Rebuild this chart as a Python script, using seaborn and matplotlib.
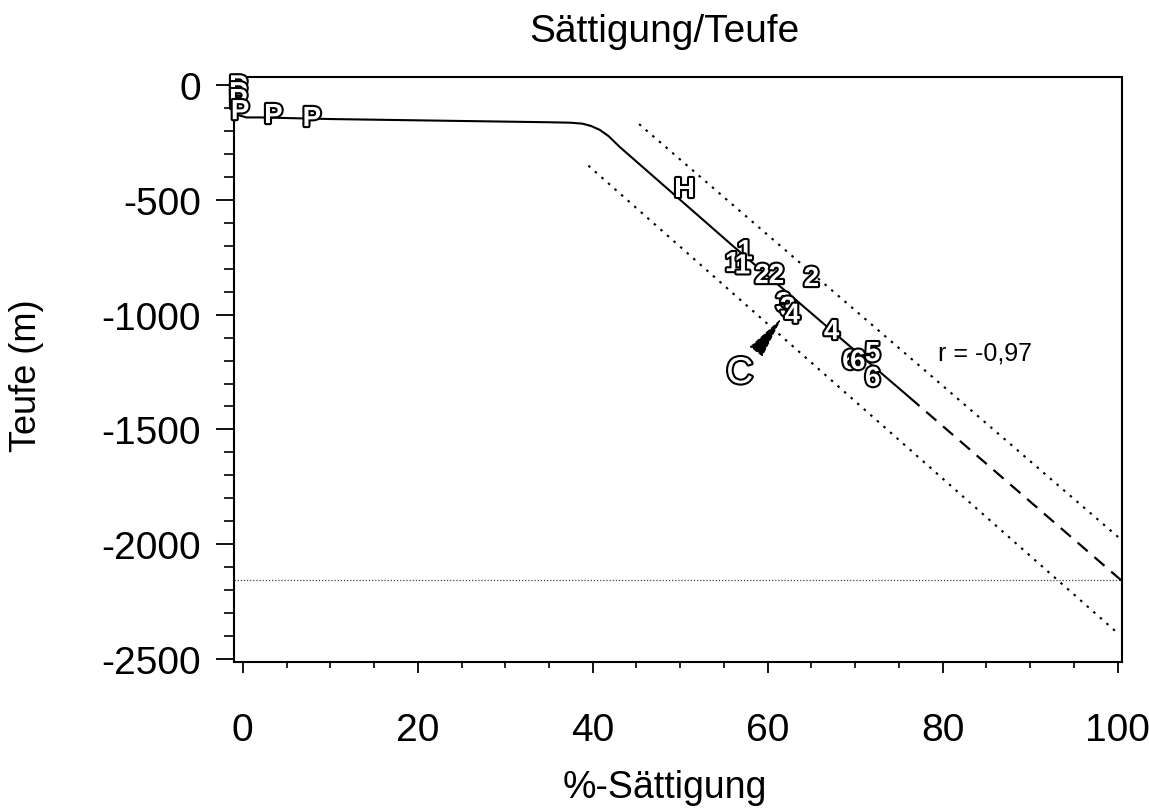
"""Saettigung/Teufe plot: saturation vs depth with regression line and band."""
import matplotlib
matplotlib.use('Agg')
import matplotlib.pyplot as plt
import matplotlib.patheffects as pe
from matplotlib.ticker import MultipleLocator
import pandas as pd
import seaborn as sns

# fitted curve (solid), extrapolation (dashed), confidence band (dotted)
curve_x = [-1.0, 0.4, 2.0, 10.0, 22.5, 35.0, 37.5, 38.8, 39.8, 40.8, 41.8, 43.1, 56.0, 76.2]
curve_y = [-125, -141, -141, -148, -155, -162, -164, -168, -178, -195, -222, -270, -700, -1360]
extrap_x = [76.2, 100.5]
extrap_y = [-1360, -2160]
upper_x = [45.3, 100.5]
upper_y = [-170, -1983]
lower_x = [39.5, 100.0]
lower_y = [-351, -2387]
base_depth = -2155

# sample labels
labels = ['P', 'P', 'P', 'P', 'P', 'P', 'H', '1', '1', '1', '2', '2', '2',
          '3', '3', '4', '4', '5', '6', '6', '6']
sat = [-0.5, -0.5, -0.5, -0.3, 3.5, 7.9, 50.5, 56.0, 57.4, 57.1, 59.4, 61.0, 65.0,
       61.8, 62.3, 62.8, 67.3, 72.0, 69.4, 70.3, 72.0]
depth = [-10, -40, -70, -118, -135, -148, -458, -780, -728, -790, -832, -832, -845,
         -955, -975, -1005, -1076, -1172, -1206, -1206, -1280]

x_ticks = [0, 20, 40, 60, 80, 100]
y_ticks = [0, -500, -1000, -1500, -2000, -2500]

sns.set_theme(style='ticks')
plt.rcParams['font.family'] = ['Liberation Sans', 'DejaVu Sans']
plt.rcParams['axes.unicode_minus'] = False

fig = plt.figure(figsize=(11.49, 8.12), dpi=100)
ax = fig.add_axes([0.2037, 0.1835, 0.7728, 0.7204])

sns.lineplot(x=curve_x, y=curve_y, ax=ax, color='black', lw=1.5, estimator=None)
sns.lineplot(x=extrap_x, y=extrap_y, ax=ax, color='black', lw=1.6,
             linestyle=(0, (6, 4)), estimator=None)
for bx, by in [(upper_x, upper_y), (lower_x, lower_y)]:
    sns.lineplot(x=bx, y=by, ax=ax, color='black', lw=1.5,
                 linestyle=(0, (1.2, 3.0)), estimator=None)
ax.axhline(base_depth, color='#444444', lw=0.9, linestyle=(0, (1, 1.5)))

outline = [pe.withStroke(linewidth=3, foreground='black')]
pts = pd.DataFrame({'label': labels, 'sat': sat, 'depth': depth})
for _, r in pts.iterrows():
    ax.text(r['sat'], r['depth'], r['label'], ha='center', va='center',
            fontsize=20, fontweight='bold', color='white', path_effects=outline)

ax.annotate('C', xy=(61.6, -1015), xytext=(56.8, -1255), ha='center', va='center',
            fontsize=27, color='white', path_effects=outline,
            arrowprops=dict(arrowstyle='-|>,head_length=1.7,head_width=0.32',
                            mutation_scale=16, linestyle=(0, (3, 2)),
                            color='black', lw=1.0, shrinkA=1, shrinkB=0))
ax.text(79.5, -1163, 'r = -0,97', ha='left', va='center', fontsize=18, color='black')

ax.set_xlim(-1.0, 100.5)
ax.set_ylim(-2513, 35)
ax.set_xticks(x_ticks)
ax.set_yticks(y_ticks)
ax.xaxis.set_minor_locator(MultipleLocator(5))
ax.yaxis.set_minor_locator(MultipleLocator(100))
ax.tick_params(axis='x', which='major', length=8, width=1.3, pad=28, labelsize=28, colors='black')
ax.tick_params(axis='x', which='minor', length=4, width=1.2, colors='black')
ax.tick_params(axis='y', which='major', length=13, width=1.3, pad=11, labelsize=28, colors='black')
ax.tick_params(axis='y', which='minor', length=7, width=1.2, colors='black')
for s in ax.spines.values():
    s.set_color('black')
    s.set_linewidth(1.5)

ax.set_xlabel('%-Sättigung', fontsize=27, color='black')
ax.set_ylabel('Teufe (m)', fontsize=26, color='black')
ax.xaxis.set_label_coords(0.485, -0.183)
ax.yaxis.set_label_coords(-0.214, 0.492)
ax.set_title('Sättigung/Teufe', fontsize=28, color='black', x=0.485, y=1.0615, pad=0)

fig.savefig('out.png', dpi=100, facecolor='white')
